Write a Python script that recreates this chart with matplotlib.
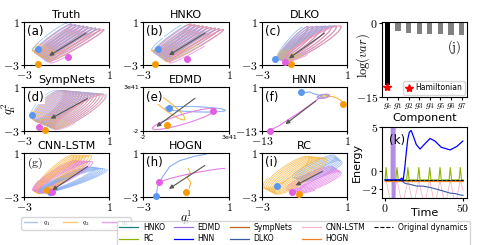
import numpy as np
import matplotlib.pyplot as plt
from matplotlib.lines import Line2D

plt.rcParams['mathtext.fontset'] = 'cm'
plt.rcParams['font.family'] = ['DejaVu Sans']
plt.rcParams['axes.linewidth'] = 0.8

# colours of the three bodies
Q_LINE = ['#86aef2', '#f7b53c', '#e47ae4']
Q_DOT = ['#5b96f2', '#f59b0a', '#e25ee2']
Q_NAMES = [r'$q_1$', r'$q_2$', r'$q_3$']

# loop bands per panel, one row per body, read as the two tips of the first and last loop:
# (lower tip x, y, upper tip x, y) at start, the same at end, half-width start/end, loops, phase
BAND_A = [(-2.64, -1.60, -0.99, 0.88, -1.90, -2.75, 0.75, 0.30, 0.20, 0.20, 9, 0.0),
          (-2.60, -1.70, -0.90, 0.85, -1.82, -2.80, 0.82, 0.28, 0.20, 0.20, 9, 2.1),
          (-2.56, -1.80, -0.80, 0.82, -1.75, -2.84, 0.89, 0.26, 0.20, 0.20, 9, 4.2)]
BAND_B = [(-2.62, -1.62, -1.00, 0.86, -1.90, -2.75, 0.76, 0.30, 0.20, 0.20, 9, 0.6),
          (-2.58, -1.72, -0.90, 0.84, -1.82, -2.80, 0.83, 0.28, 0.20, 0.20, 9, 2.7),
          (-2.54, -1.82, -0.80, 0.82, -1.74, -2.84, 0.89, 0.26, 0.20, 0.20, 9, 4.8)]
BAND_C = [(-2.30, -2.40, -1.10, 0.50, -1.95, -2.60, 0.70, 0.65, 0.20, 0.45, 8, 0.0),
          (-2.28, -2.45, -1.00, 0.55, -1.90, -2.62, 0.75, 0.62, 0.20, 0.45, 8, 2.1),
          (-2.26, -2.50, -0.90, 0.60, -1.85, -2.64, 0.80, 0.60, 0.20, 0.45, 8, 4.2)]
BAND_D = [(-2.60, -1.90, -1.40, 0.75, -1.60, -2.85, 0.85, 0.40, 0.45, 0.45, 15, 0.0),
          (-2.55, -2.00, -1.30, 0.75, -1.55, -2.85, 0.85, 0.35, 0.45, 0.45, 15, 2.1),
          (-2.50, -2.10, -1.20, 0.75, -1.50, -2.85, 0.85, 0.30, 0.45, 0.45, 15, 4.2)]
BAND_G = [(-2.40, -2.60, 0.20, -0.30, -2.20, -2.60, 0.90, -0.50, 0.35, 0.35, 7, 0.0),
          (-2.50, -2.50, -0.80, 0.80, -2.30, -2.70, 0.20, 0.75, 0.35, 0.35, 7, 2.1),
          (-2.60, -2.40, -0.60, 0.30, -2.30, -2.60, 0.30, 0.20, 0.35, 0.35, 7, 4.2)]
BAND_I = [(-1.60, -1.20, 0.40, 0.80, -1.00, -1.60, 0.75, 0.20, 0.30, 0.30, 6, 0.0),
          (-2.90, -2.20, -0.90, 0.70, -2.30, -2.80, 0.05, 0.50, 0.45, 0.45, 8, 2.1),
          (-1.90, -2.30, 0.30, -0.20, -1.20, -2.60, 0.75, -0.80, 0.35, 0.35, 7, 4.2)]
BAND_E = [(-0.75, 0.62, 2.75, 0.38, -0.70, 0.62, 2.80, 0.38, 0.30, 0.30, 2, 0.0),
          (-1.735, 2.70, 0.385, -0.70, -1.70, 2.68, 0.40, -0.72, 0.35, 0.35, 2, 1.0),
          (-1.45, -1.765, 2.20, 0.515, -1.42, -1.74, 2.22, 0.54, 0.50, 0.50, 2, 2.0)]
LOOPS_F = [(-3.70, -2.10, -2.10, -1.50, -3.70, -2.10, -2.10, -1.50, 0.50, 0.50, 3, 0.0),
           (-3.30, -2.00, -2.10, -1.40, -3.30, -2.00, -2.10, -1.40, 0.40, 0.40, 2, 1.0),
           (-3.90, -2.30, -1.90, -1.40, -3.90, -2.30, -1.90, -1.40, 0.60, 0.60, 2, 2.0)]

# starting points of the three bodies per panel (q1, q2, q3)
DOTS = {
    'a': [(-2.34, -1.50), (-2.34, -2.90), (-0.93, -2.26)],
    'b': [(-2.30, -1.50), (-2.44, -2.90), (-0.97, -2.40)],
    'c': [(-2.39, -2.47), (-1.64, -2.93), (-1.90, -2.70)],
    'd': [(-2.64, -1.53), (-2.01, -2.90), (-2.30, -2.60)],
    'e': [(-0.47, 0.70), (-0.60, -1.35), (2.075, 0.25)],
    'f': [(-6.63, -0.40), (0.40, -4.18), (-11.70, -12.90)],
    'g': [(-1.80, -2.50), (-1.93, -2.36), (-1.70, -2.57)],
    'h': [(-2.38, -2.90), (-1.00, -2.54), (-2.27, -1.67)],
    'i': [(-2.31, -2.00), (-1.24, -2.75), (-1.60, -2.50)],
}

# grey drift arrows (tail x, tail y, head x, head y)
ARROWS = {
    'a': (0.03, 0.10, -1.93, -2.28), 'b': (-0.01, 0.10, -1.90, -2.22),
    'c': (0.04, 0.10, -1.84, -2.53), 'd': (0.10, 0.10, -1.86, -1.99),
    'e': (1.15, 1.95, -1.35, -1.70), 'f': (-3.76, -2.78, -9.50, -11.32),
    'g': (0.10, -0.09, -1.78, -2.52), 'h': (-0.02, 0.00, -1.90, -2.40),
    'i': (-0.04, -0.55, -1.53, -2.06),
}

# HNN panel paths
F_Q1_X = [-6.63, -6.0, -5.16, -4.6, -3.76, -2.92]
F_Q1_Y = [-0.40, -0.68, -0.40, -0.96, -1.38, -1.80]
F_Q2_X = [0.40, 0.02, -0.68, -1.38, -2.08, -2.64]
F_Q2_Y = [-4.18, -3.20, -2.36, -1.94, -1.80, -1.52]
F_Q3_X = [-11.68, -10.2, -8.8, -7.12, -5.3, -3.9, -3.2]
F_Q3_Y = [-12.72, -11.32, -9.5, -7.4, -4.88, -2.92, -1.8]

# HOGN panel paths
H_Q1_X = [-2.38, -2.35, -2.30, -2.10, -1.76, -1.30, -0.60, -0.05]
H_Q1_Y = [-2.90, -2.40, -1.90, -1.20, -0.24, 0.30, 0.70, 0.90]
H_Q2_X = [-0.85, -0.78, -0.95, -0.80, -0.90]
H_Q2_Y = [-2.20, -1.70, -1.20, -0.80, -0.40]
H_Q3_X = [-2.27, -1.80, -1.30, -0.60, 0.00, 0.50, 0.80]
H_Q3_Y = [-1.67, -1.35, -1.10, -0.80, -0.60, -0.45, -0.40]

# (j) variance of components
COMPONENTS = [r'$g_c$', r'$g_1$', r'$g_2$', r'$g_3$', r'$g_4$', r'$g_5$', r'$g_6$', r'$g_7$']
LOG_VAR = [-12.5, -1.6, -1.9, -2.1, -2.1, -2.1, -2.3, -2.3]
HAMILTONIAN = -13.0

# (k) energy over time
T_FLAT = [0, 50]
HNKO_E = [-1.05, -1.05]
SYMP_E = [-1.15, -1.15]
HOGN_E = [-1.10, -1.10]
ORIG_E = [-1.0, -1.0]
HNN_T = [0, 9, 10, 10.7, 11.5, 12.5, 13.5, 14.5, 15.5, 16.7, 18, 20, 22.4, 25, 28.8, 32, 36, 41.7, 46, 49.8]
HNN_E = [-1.0, -1.0, -0.9, -0.8, -1.1, 0.2, 2.0, 3.6, 4.4, 4.6, 4.0, 3.0, 2.5, 3.0, 3.7, 3.4, 2.7, 2.4, 2.8, 3.4]
DLKO_T = [0, 10, 12.8, 16, 20.3, 24, 28.8, 32, 35, 38, 41.7, 45, 48, 50]
DLKO_E = [-1.0, -1.0, -1.4, -1.5, -1.7, -1.7, -1.85, -2.0, -2.15, -2.3, -2.5, -2.55, -2.7, -2.75]
RC_T = [0, 0.6, 1.4, 6.8, 7.6, 8.4, 13.8, 14.6, 15.4, 20.8, 21.6, 22.4, 27.8, 28.6, 29.4,
        34.4, 35.2, 36.0, 41.0, 41.8, 42.6, 47.4, 48.2, 49.0, 50]
RC_E = [-1.0, 0.4, -1.0, -1.0, 0.4, -1.0, -1.0, 0.4, -1.0, -1.0, 0.4, -1.0, -1.0, 0.4, -1.0,
        -1.0, 0.4, -1.0, -1.0, 0.4, -1.0, -1.0, 0.4, -1.0, -1.0]
CNN_T = [0, 0.6, 4.1, 7.6, 11.1, 14.6, 18.1, 21.6, 25.1, 28.6, 31.9, 35.2, 38.5, 41.8, 45.0, 48.2, 50]
CNN_E = [-1.0, -1.0, -4.0, -1.0, -4.0, -1.0, -4.0, -1.0, -4.0, -1.0, -4.0, -1.0, -4.0, -1.0, -4.0, -1.0, -2.2]
EDMD_T = [0, 2, 4.0, 4.5, 4.8, 5.1, 5.4, 5.7, 6.0, 6.3]
EDMD_E = [-1.0, -1.0, -1.0, 30, -30, 30, -30, 30, -30, 30]


def band_xy(spec, per_loop=200):
    lx0, ly0, ux0, uy0, lx1, ly1, ux1, uy1, b0, b1, n, ph = spec
    t = np.linspace(0, 1, per_loop * n + 1)
    th = 2 * np.pi * n * t + ph
    lx, ly = lx0 + (lx1 - lx0) * t, ly0 + (ly1 - ly0) * t
    ux, uy = ux0 + (ux1 - ux0) * t, uy0 + (uy1 - uy0) * t
    cx, cy = (lx + ux) / 2, (ly + uy) / 2
    hx, hy = (ux - lx) / 2, (uy - ly) / 2
    hn = np.hypot(hx, hy)
    b = b0 + (b1 - b0) * t
    px, py = -hy / hn * b, hx / hn * b
    x = cx + np.cos(th) * hx + np.sin(th) * px
    y = cy + np.cos(th) * hy + np.sin(th) * py
    return x, y, n, per_loop


def draw_bands(ax, specs, lw=0.65, alpha=0.75):
    # loop by loop, body by body, so the colours interleave
    curves = [band_xy(s) for s in specs]
    nmax = max(c[2] for c in curves)
    for k in range(nmax):
        for (x, y, n, pl), c in zip(curves, Q_LINE):
            if k < n:
                sl = slice(k * pl, (k + 1) * pl + 1)
                ax.plot(x[sl], y[sl], color=c, lw=lw, alpha=alpha)


def finish(ax, key, lim, labels, title, serif_label=False, small=False):
    ax.set_xlim(lim)
    ax.set_ylim(lim)
    ax.set_xticks(lim)
    ax.set_yticks(lim)
    fs = 4.5 if small else 8.5
    ax.set_xticklabels(labels, fontsize=fs)
    ax.set_yticklabels(labels, fontsize=fs)
    ax.tick_params(length=2, pad=1)
    ax.set_title(title, fontsize=8, pad=3)
    for (x, y), c in zip(DOTS[key], Q_DOT):
        ax.plot(x, y, 'o', color=c, ms=4, zorder=5, clip_on=False)
    x0, y0, x1, y1 = ARROWS[key]
    ax.annotate('', xy=(x1, y1), xytext=(x0, y0),
                arrowprops=dict(arrowstyle='-|>', color='#555555', lw=0.8, mutation_scale=6), zorder=6)
    txt = r'$\mathrm{(%s)}$' % key if serif_label else '(%s)' % key
    ax.text(0.04, 0.93, txt, transform=ax.transAxes, fontsize=8.5, va='top', ha='left',
            bbox=dict(facecolor='white', edgecolor='none', pad=0.3), zorder=7)


fig = plt.figure(figsize=(4.91, 2.45), dpi=100)
W, H = 491.0, 245.0

def axpx(l, t, r, b):
    return fig.add_axes([l / W, 1 - b / H, (r - l) / W, (b - t) / H])

cols = [(24, 109), (143, 229), (262, 347)]
rows = [(22, 65), (87.5, 131), (153, 197)]
std = [-3, 1]
stdl = [r'$-3$', r'$1$']

panels = [('a', 'Truth', BAND_A), ('b', 'HNKO', BAND_B), ('c', 'DLKO', BAND_C),
          ('d', 'SympNets', BAND_D), ('e', 'EDMD', BAND_E), ('f', 'HNN', None),
          ('g', 'CNN-LSTM', BAND_G), ('h', 'HOGN', None), ('i', 'RC', BAND_I)]

for k, (key, title, spec) in enumerate(panels):
    l, r = cols[k % 3]
    t, b = rows[k // 3]
    ax = axpx(l, t, r, b)
    if spec is not None:
        draw_bands(ax, spec, lw=0.45 if key == 'd' else 0.65)
    if key == 'e':
        finish(ax, key, [-2, 3], ['-2', '3e41'], title, small=True)
    elif key == 'f':
        ax.plot(F_Q1_X, F_Q1_Y, color=Q_LINE[0], lw=0.8)
        ax.plot(F_Q2_X, F_Q2_Y, color=Q_LINE[1], lw=0.8)
        ax.plot(F_Q3_X, F_Q3_Y, color=Q_LINE[2], lw=0.8)
        draw_bands(ax, LOOPS_F)
        finish(ax, key, [-13, 1], [r'$-13$', r'$1$'], title)
    elif key == 'h':
        ax.plot(H_Q1_X, H_Q1_Y, color=Q_LINE[0], lw=0.8)
        ax.plot(H_Q2_X, H_Q2_Y, color=Q_LINE[1], lw=0.8)
        ax.plot(H_Q3_X, H_Q3_Y, color=Q_LINE[2], lw=0.8)
        finish(ax, key, std, stdl, title)
        ax.set_xlabel(r'$q_i^1$', fontsize=9, labelpad=-4)
    else:
        finish(ax, key, std, stdl, title, serif_label=(key == 'g'))

fig.text(9 / W, 1 - 109 / H, r'$q_i^2$', fontsize=9, rotation=90, ha='center', va='center')

# (j) variance bars
axj = axpx(382, 22, 467, 97)
xj = np.arange(len(COMPONENTS))
axj.bar(xj, LOG_VAR, width=0.5, color=['black'] + ['#808080'] * 7)
axj.plot(0, HAMILTONIAN, '*', color='red', ms=6, label='Hamiltonian')
axj.set_xlim(-0.5, 7.5)
axj.set_ylim(-15, 0.3)
axj.set_yticks([0, -15])
axj.set_yticklabels([r'$0$', r'$-15$'], fontsize=8.5)
axj.set_xticks(xj)
axj.set_xticklabels(COMPONENTS, fontsize=7)
axj.tick_params(length=2, pad=1)
axj.set_ylabel(r'$\log(var)$', fontsize=9)
axj.yaxis.set_label_coords(-0.12, 0.55)
axj.set_xlabel('Component', fontsize=8, labelpad=1)
axj.text(0.93, 0.62, r'$\mathrm{(j)}$', transform=axj.transAxes, fontsize=9, ha='right')
axj.legend(loc='lower right', fontsize=5.5, handlelength=1, handletextpad=0.3,
           borderpad=0.3, borderaxespad=0.3)

# (k) energy
axk = axpx(382, 127, 467, 198)
axk.plot(CNN_T, CNN_E, color='#f7b6c8', lw=0.6)
axk.plot(EDMD_T, EDMD_E, color='#a070e0', lw=1.2, alpha=0.8)
axk.plot(RC_T, RC_E, color='#8db500', lw=0.8)
axk.plot(T_FLAT, HNKO_E, color='#1f8080', lw=0.8)
axk.plot(T_FLAT, SYMP_E, color='#c0601a', lw=0.8)
axk.plot(T_FLAT, HOGN_E, color='#f08020', lw=0.8)
axk.plot(DLKO_T, DLKO_E, color='#3b5ba5', lw=0.8)
axk.plot(HNN_T, HNN_E, color='#0000ff', lw=0.9)
axk.plot(T_FLAT, ORIG_E, color='black', ls='--', lw=0.6)
axk.set_xlim(-2, 52.5)
axk.set_ylim(-3.05, 5)
axk.set_xticks([0, 50])
axk.set_xticklabels([r'$0$', r'$50$'], fontsize=8.5)
axk.set_yticks([5, 0, -2])
axk.set_yticklabels([r'$5$', r'$0$', r'$-2$'], fontsize=8.5)
axk.tick_params(length=2, pad=1)
axk.set_ylabel('Energy', fontsize=8, labelpad=0)
axk.set_xlabel('Time', fontsize=8, labelpad=-5)
axk.text(0.08, 0.9, '(k)', transform=axk.transAxes, fontsize=8.5, va='top')

# legends
q_handles = [Line2D([], [], color=c, lw=1, alpha=0.7) for c in Q_LINE]
fig.legend(q_handles, Q_NAMES, loc='upper left', bbox_to_anchor=(18 / W, 1 - 214 / H),
           ncol=3, fontsize=5, handlelength=2, columnspacing=1.8, handletextpad=0.8,
           borderpad=0.3, frameon=True, fancybox=True)

m_names = ['HNKO', 'RC', 'EDMD', 'HNN', 'SympNets', 'DLKO', 'CNN-LSTM', 'HOGN', 'Original dynamics']
m_cols = ['#1f8080', '#8db500', '#a070e0', '#0000ff', '#c0601a', '#3b5ba5', '#f7b6c8', '#f08020', 'black']
m_handles = [Line2D([], [], color=c, lw=0.9) for c in m_cols[:-1]]
m_handles.append(Line2D([], [], color='black', ls='--', lw=0.8))
fig.legend(m_handles, m_names, loc='upper left', bbox_to_anchor=(113 / W, 1 - 217 / H),
           ncol=5, fontsize=5.5, handlelength=2.5, columnspacing=1.2, handletextpad=0.6,
           borderpad=0.3, labelspacing=0.3, frameon=True)

fig.savefig('out.png', dpi=100)
